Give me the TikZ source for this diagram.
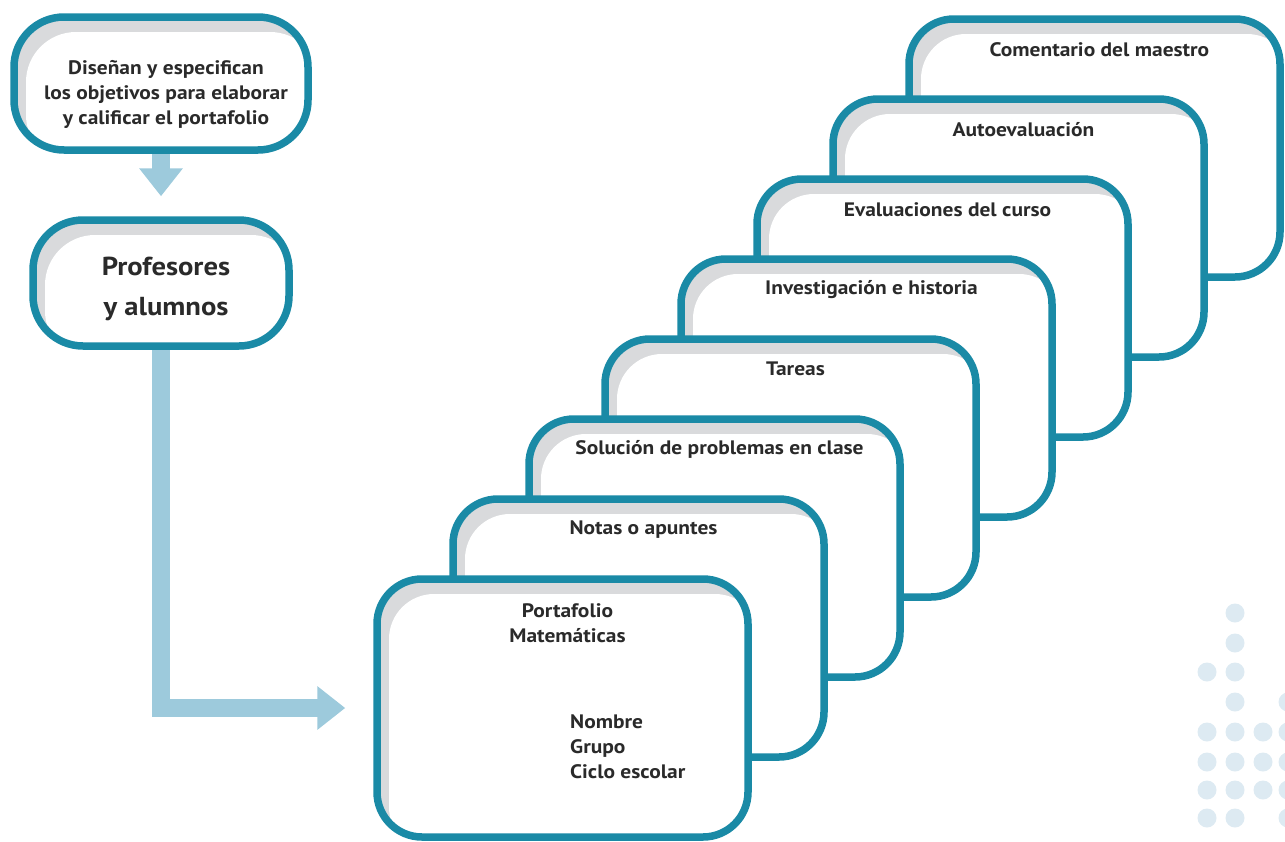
\documentclass[tikz,border=0pt]{standalone}
\usepackage{fontspec}
\setmainfont{PT Sans}[FakeStretch=1.1]
\usetikzlibrary{arrows.meta}
\pgfdeclarelayer{background}
\pgfsetlayers{background,main}
\definecolor{cardline}{HTML}{1A8AA6}
\definecolor{arrowblue}{HTML}{9DCADC}
\definecolor{shadowgray}{HTML}{D9DADC}
\definecolor{inktext}{HTML}{2A2A2A}
\definecolor{dotblue}{HTML}{DDEAF2}
\tikzset{
  shadowbox/.style={draw=cardline, line width=7.5pt, fill=white, rounded corners=#1, inner sep=0pt,
    path picture={
      \fill[shadowgray] (path picture bounding box.south west) rectangle (path picture bounding box.north east);
      \fill[white, rounded corners=#1] ([xshift=12pt,yshift=-15pt]path picture bounding box.north west) rectangle ([xshift=12pt,yshift=-15pt]path picture bounding box.south east);
    }},
  card/.style={shadowbox=45pt, minimum width=371pt, minimum height=258pt},
  lbl/.style={text=inktext, font=\bfseries\fontsize{19.5}{25}\selectfont, inner sep=0pt, align=center},
  biglbl/.style={text=inktext, font=\bfseries\fontsize{26}{40}\selectfont, inner sep=0pt, align=center},
  bigarrow/.style={draw=arrowblue, line width=18pt, -{Triangle[width=42pt,length=28pt]}},
}
\begin{document}
\begin{tikzpicture}[x=1pt,y=-1pt]
\useasboundingbox (0,0) rectangle (1285,841);
% decorative dots
\foreach \dx/\dy in {1235/613,1235/643,1207/672,1235/672,1235/702,1288/702,
  1207/732,1235/732,1263/732,1288/732,1207/762,1235/762,1263/762,1288/762,
  1207/790,1235/790,1263/790,1288/790,1207/818,1235/818,1288/818}
  \fill[dotblue] (\dx,\dy) circle (9.5pt);
% left boxes
\node[shadowbox=50pt, minimum width=294pt, minimum height=133pt] (b1) at (161,83.5) {};
\node[lbl] (t1) at (166,94) {Diseñan y especifican\\los objetivos para elaborar\\y calificar el portafolio};
\node[shadowbox=50pt, minimum width=256pt, minimum height=126pt] (b2) at (161,283) {};
\node[biglbl] (t2) at (166,289) {Profesores\\y alumnos};
% stacked cards (back to front)
\node[card] (c7) at (1094.5,148) {};
\node[lbl] (l7) at ([xshift=5pt,yshift=-34pt]c7.north) {Comentario del maestro};
\node[card] (c6) at (1018.5,228) {};
\node[lbl] (l6) at ([xshift=5pt,yshift=-34pt]c6.north) {Autoevaluación};
\node[card] (c5) at (942.5,308) {};
\node[lbl] (l5) at ([xshift=5pt,yshift=-34pt]c5.north) {Evaluaciones del curso};
\node[card] (c4) at (866.5,388) {};
\node[lbl] (l4) at ([xshift=5pt,yshift=-34pt]c4.north) {Investigación e historia};
\node[card] (c3) at (790.5,468) {};
\node[lbl] (l3) at ([xshift=5pt,yshift=-34pt]c3.north) {Tareas};
\node[card] (c2) at (714.5,548) {};
\node[lbl] (l2) at ([xshift=5pt,yshift=-34pt]c2.north) {Solución de problemas en clase};
\node[card] (c1) at (638.5,628) {};
\node[lbl] (l1) at ([xshift=5pt,yshift=-34pt]c1.north) {Notas o apuntes};
\node[card] (c0) at (562.5,708) {};
\node[lbl] (l0) at ([xshift=5pt,yshift=-48pt]c0.north) {Portafolio\\Matemáticas};
\node[lbl, anchor=west, align=left] (d0) at (570,747) {Nombre\\Grupo\\Ciclo escolar};
% arrows
\begin{pgfonlayer}{background}
\draw[bigarrow, shorten >=20pt] (b1.south) -- (b2.north);
\draw[bigarrow, shorten >=28pt] (b2.south) |- (c0.west);
\end{pgfonlayer}
\end{tikzpicture}
\end{document}
